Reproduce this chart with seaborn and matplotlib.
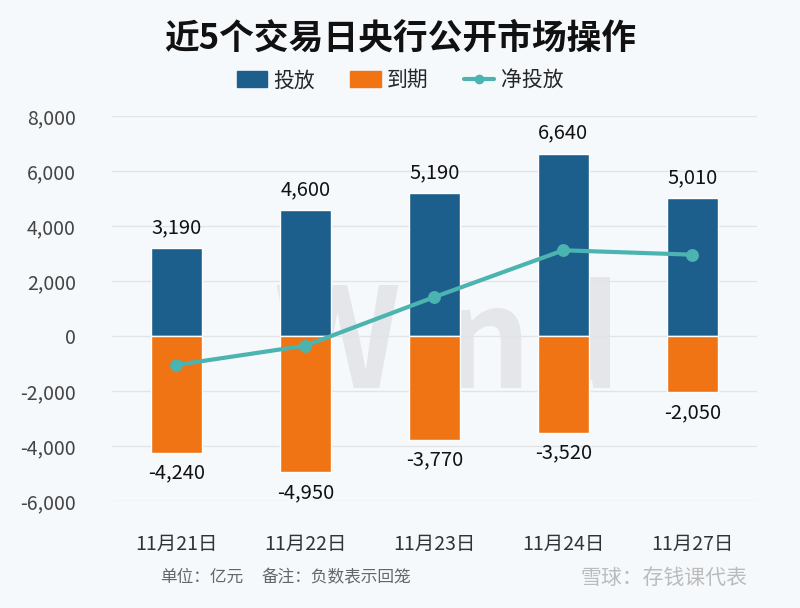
import matplotlib
matplotlib.use("Agg")
import matplotlib.pyplot as plt
from matplotlib.patches import Patch
from matplotlib.lines import Line2D
import seaborn as sns

dates = ["11月21日", "11月22日", "11月23日", "11月24日", "11月27日"]
inject = [3190, 4600, 5190, 6640, 5010]
mature = [-4240, -4950, -3770, -3520, -2050]
net = [-1050, -350, 1420, 3120, 2960]
yticks = [-6000, -4000, -2000, 0, 2000, 4000, 6000, 8000]

blue = "#1d5f8c"
orange = "#f07314"
teal = "#4cb4b0"
bg = "#f6f9fc"

sns.set_theme(style="white")
plt.rcParams["font.family"] = ["Noto Sans CJK SC", "DejaVu Sans"]

fig = plt.figure(figsize=(8, 6.08), dpi=100, facecolor=bg)
ax = fig.add_axes([0.14, 0.176, 0.806, 0.633], facecolor=bg)

# faint watermark behind the bars
ax.text(0.52, 0.4, "Wind", transform=ax.transAxes, ha="center", va="center",
        fontsize=100, fontweight="bold", color="#888888", alpha=0.16, zorder=0)

sns.barplot(x=dates, y=inject, color=blue, width=0.4, ax=ax, saturation=1, zorder=2)
sns.barplot(x=dates, y=mature, color=orange, width=0.4, ax=ax, saturation=1, zorder=2)
sns.pointplot(x=dates, y=net, color=teal, markers="o", markersize=7,
              linewidth=3, ax=ax, zorder=4)

for cont in ax.containers:
    ax.bar_label(cont, labels=[f"{abs(v.get_height()):,.0f}" if v.get_height() > 0
                               else f"-{abs(v.get_height()):,.0f}" for v in cont],
                 padding=7, fontsize=14.5, color="#111111")

ax.set_ylim(-6000, 8000)
ax.set_xlim(-0.5, 4.5)
ax.set_yticks(yticks)
ax.set_yticklabels([f"{v:,}" if v >= 0 else f"-{abs(v):,}" for v in yticks])
ax.yaxis.grid(True, color="#e2e4e6", linewidth=1)
ax.set_axisbelow(True)
ax.tick_params(axis="y", length=0, pad=26, labelsize=14, labelcolor="#444444")
ax.tick_params(axis="x", length=0, pad=24, labelsize=14, labelcolor="#333333")
ax.set_xlabel("")
ax.set_ylabel("")
sns.despine(ax=ax, left=True, bottom=True)

fig.text(0.5, 0.937, "近5个交易日央行公开市场操作", ha="center", va="center",
         fontsize=25, fontweight="bold", color="#111111")

handles = [Patch(color=blue), Patch(color=orange),
           Line2D([0], [0], color=teal, lw=3, marker="o", markersize=6)]
fig.legend(handles, ["投放", "到期", "净投放"], loc="center", bbox_to_anchor=(0.5, 0.868),
           ncol=3, frameon=False, fontsize=15, handlelength=1.45, handleheight=0.75,
           columnspacing=1.7, handletextpad=0.3)

fig.text(0.2, 0.05, "单位：亿元", fontsize=12, color="#666666", va="center")
fig.text(0.327, 0.05, "备注：负数表示回笼", fontsize=12, color="#666666", va="center")
fig.text(0.725, 0.05, "雪球：存钱课代表", fontsize=15, color="#bbbbbb", va="center")

fig.savefig("out.png", dpi=100, facecolor=bg)
